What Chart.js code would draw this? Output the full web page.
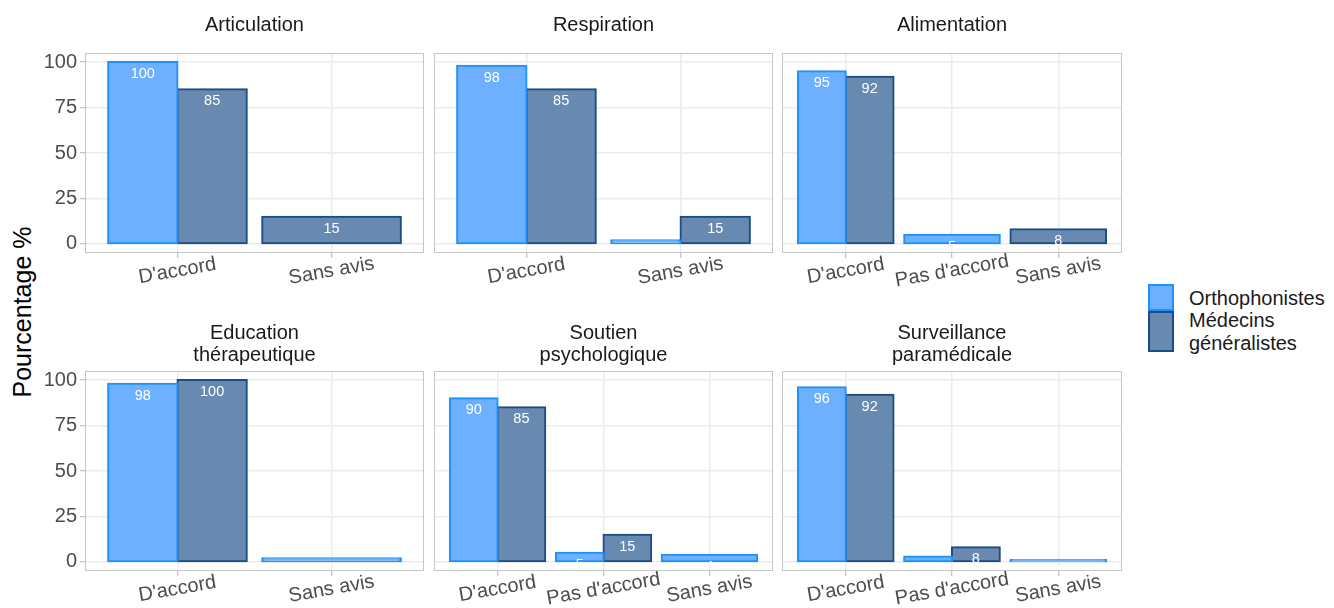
<!DOCTYPE html>
<html lang="fr">
<head>
<meta charset="utf-8">
<title>Pourcentage par domaine</title>
<script src="https://cdn.jsdelivr.net/npm/chart.js@4.4.1/dist/chart.umd.min.js"></script>
<style>
  html, body { margin: 0; padding: 0; background: #fff; overflow: hidden; }
  body { width: 1334px; height: 608px; position: relative; font-family: "Liberation Sans", Arial, sans-serif; }
  canvas { position: absolute; }
  #ytitle {
    position: absolute; left: 22px; top: 312px; font-size: 25px; color: #000; white-space: nowrap;
    transform: translate(-50%, -50%) rotate(-90deg);
  }
  .key { position: absolute; left: 1148px; width: 26px; box-sizing: border-box; border: 2px solid; }
  .ltext { position: absolute; left: 1189px; font-size: 20px; color: #1a1a1a; white-space: nowrap; }
</style>
</head>
<body>
<div id="ytitle">Pourcentage %</div>
<div class="key" style="top:284px;height:27px;background:#6cb0ff;border-color:#1e90ff"></div>
<div class="key" style="top:311px;height:41px;background:#6889b0;border-color:#1a4d85"></div>
<div class="ltext" style="top:287px;line-height:22px">Orthophonistes</div>
<div class="ltext" style="top:308.5px;line-height:23px">Médecins<br>généralistes</div>

<script>
// facet titles, categories and values (%)
const facetTitles = [
  ["Articulation"], ["Respiration"], ["Alimentation"],
  ["Education", "thérapeutique"], ["Soutien", "psychologique"], ["Surveillance", "paramédicale"]
];
const categories = [
  ["D'accord", "Sans avis"],
  ["D'accord", "Sans avis"],
  ["D'accord", "Pas d'accord", "Sans avis"],
  ["D'accord", "Sans avis"],
  ["D'accord", "Pas d'accord", "Sans avis"],
  ["D'accord", "Pas d'accord", "Sans avis"]
];
const orthophonistes = [[100, null], [98, 2], [95, 5, null], [98, 2], [90, 5, 4], [96, 3, 1]];
const medecins = [[85, 15], [85, 15], [92, null, 8], [100, null], [85, 15, null], [92, 8, null]];
const yTicks = [0, 25, 50, 75, 100];
const seriesNames = ["Orthophonistes", "Médecins généralistes"];

// panel placement (ggplot facet grid, 3 columns x 2 rows)
const colLeft = [0, 434, 782];
const colWidth = [424, 339, 340];
const yAxisWidth = [85, 0, 0];
const rowTop = [0, 300];
const rowHeight = [300, 308];
const titlePad = [{ top: 14, bottom: 17 }, { top: 22, bottom: 5 }];
const xAxisHeight = [47, 37];

const FONT = '"Liberation Sans", Arial, sans-serif';
Chart.defaults.font.family = FONT;

const panelBorder = {
  id: "panelBorder",
  afterDraw(chart) {
    const { ctx, chartArea: a } = chart;
    ctx.save();
    ctx.strokeStyle = "#c6c6c6";
    ctx.lineWidth = 1;
    ctx.strokeRect(a.left + 0.5, a.top + 0.5, a.width - 1, a.height - 1);
    ctx.restore();
  }
};

// white value labels just inside the top of each bar
const barValues = {
  id: "barValues",
  afterDatasetsDraw(chart) {
    const { ctx, chartArea: a } = chart;
    ctx.save();
    ctx.beginPath();
    ctx.rect(a.left, a.top, a.width, a.height);
    ctx.clip();
    ctx.font = "14.5px " + FONT;
    ctx.fillStyle = "#ffffff";
    ctx.textAlign = "center";
    ctx.textBaseline = "middle";
    chart.data.datasets.forEach((ds, di) => {
      chart.getDatasetMeta(di).data.forEach((bar, i) => {
        const v = ds.data[i].y;
        if (v == null) return;
        ctx.fillText(String(v), bar.x, bar.y + 12);
      });
    });
    ctx.restore();
  }
};

// x labels tilted 10 degrees, centred on the tick
const slantedTicks = {
  id: "slantedTicks",
  afterDraw(chart) {
    const { ctx, chartArea: a } = chart;
    const xs = chart.scales.x;
    ctx.save();
    ctx.font = "20px " + FONT;
    ctx.fillStyle = "#4d4d4d";
    ctx.textAlign = "center";
    ctx.textBaseline = "middle";
    xs.ticks.forEach((t, i) => {
      ctx.save();
      ctx.translate(xs.getPixelForTick(i), a.bottom + 18);
      ctx.rotate(-10 * Math.PI / 180);
      ctx.fillText(chart.data.labels[t.value - 1], 0, 0);
      ctx.restore();
    });
    ctx.restore();
  }
};

facetTitles.forEach((title, p) => {
  const col = p % 3, row = Math.floor(p / 3);
  const cv = document.createElement("canvas");
  cv.width = colWidth[col];
  cv.height = rowHeight[row];
  cv.style.left = colLeft[col] + "px";
  cv.style.top = rowTop[row] + "px";
  document.body.appendChild(cv);

  const n = categories[p].length;
  new Chart(cv, {
    type: "bar",
    data: {
      labels: categories[p],
      datasets: [
        {
          label: seriesNames[0],
          data: orthophonistes[p].map((v, i) => ({ x: i + 1, y: v })),
          backgroundColor: "#6cb0ff",
          borderColor: "#1e90ff"
        },
        {
          label: seriesNames[1],
          data: medecins[p].map((v, i) => ({ x: i + 1, y: v })),
          backgroundColor: "#6889b0",
          borderColor: "#1a4d85"
        }
      ]
    },
    options: {
      responsive: false,
      animation: false,
      events: [],
      layout: { padding: 0 },
      datasets: {
        bar: {
          categoryPercentage: 0.9,
          barPercentage: 1,
          skipNull: true,
          borderWidth: 2,
          inflateAmount: 1,
          borderSkipped: false
        }
      },
      plugins: {
        legend: { display: false },
        tooltip: { enabled: false },
        title: {
          display: true,
          text: title,
          fullSize: false,
          color: "#1a1a1a",
          font: { size: 20, weight: "normal", lineHeight: 1.1 },
          padding: titlePad[row]
        }
      },
      scales: {
        x: {
          type: "linear",
          min: 0.4,
          max: n + 0.6,
          offset: false,
          afterBuildTicks: s => { s.ticks = categories[p].map((_, i) => ({ value: i + 1 })); },
          afterFit: s => { s.height = xAxisHeight[row]; },
          ticks: { display: false },
          grid: { offset: false, color: "#ebebeb", lineWidth: 1.5, drawTicks: true, tickLength: 5, tickColor: "#b3b3b3", tickWidth: 1 },
          border: { display: false }
        },
        y: {
          min: -5,
          max: 105,
          afterBuildTicks: s => { s.ticks = yTicks.map(v => ({ value: v })); },
          afterFit: s => { s.width = yAxisWidth[col]; },
          ticks: { display: col === 0, color: "#4d4d4d", font: { size: 20 }, padding: 3 },
          grid: { color: "#ebebeb", lineWidth: 1.5, drawTicks: col === 0, tickLength: 5, tickColor: "#b3b3b3", tickWidth: 1 },
          border: { display: false }
        }
      }
    },
    plugins: [barValues, slantedTicks, panelBorder]
  });
});
</script>
</body>
</html>
